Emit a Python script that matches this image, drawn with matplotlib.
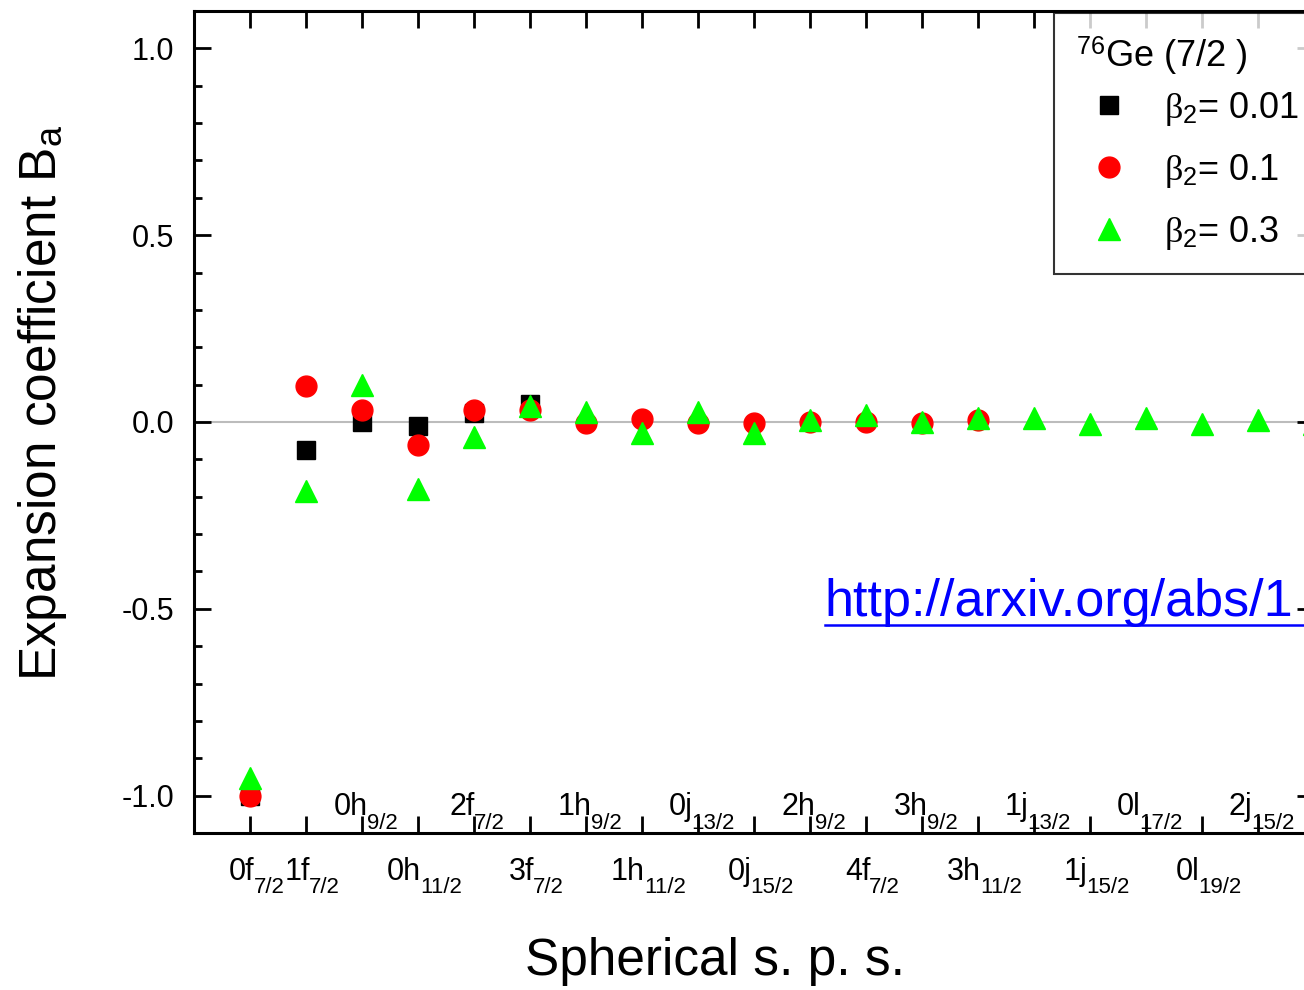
import numpy as np
import matplotlib.pyplot as plt
from matplotlib.ticker import MultipleLocator, FixedLocator, NullFormatter
from matplotlib.lines import Line2D
from matplotlib.transforms import offset_copy

plt.rcParams['font.family'] = ['Liberation Sans', 'DejaVu Sans']
plt.rcParams['mathtext.fontset'] = 'custom'
plt.rcParams['mathtext.rm'] = 'Liberation Sans'
plt.rcParams['mathtext.it'] = 'Liberation Serif'
plt.rcParams['mathtext.bf'] = 'Liberation Sans:bold'
plt.rcParams['axes.unicode_minus'] = False

# spherical single-particle states (orbital part and j)
orbits = ['0f', '1f', '0h', '0h', '2f', '3f', '1h', '1h', '0j', '0j',
          '2h', '4f', '3h', '3h', '1j', '1j', '0l', '0l', '2j', '']
spins = ['7/2', '7/2', '9/2', '11/2', '7/2', '7/2', '9/2', '11/2', '13/2', '15/2',
         '9/2', '7/2', '9/2', '11/2', '13/2', '15/2', '17/2', '19/2', '15/2', '']

# expansion coefficients for each deformation
b_001 = [-1.0, -0.075, 0.0, -0.01, 0.025, 0.048]
b_01 = [-1.0, 0.097, 0.032, -0.062, 0.032, 0.032, -0.004, 0.008, -0.003, -0.002,
        -0.001, -0.001, -0.002, 0.004]
b_03 = [-0.952, -0.184, 0.099, -0.179, -0.04, 0.043, 0.027, -0.03, 0.027, -0.03,
        0.005, 0.019, 0.0, 0.011, 0.011, -0.005, 0.011, -0.005, 0.005, -0.005]

fig = plt.figure(figsize=(13.04, 9.9), dpi=100)
ax = fig.add_axes([0.1488, 0.1586, 0.8589, 0.8303])

ax.axhline(0, color='#bcbcbc', lw=1.5, zorder=1)

ax.plot(np.arange(1, len(b_001) + 1), b_001, 's', color='black', ms=12.5,
        label=r'$\beta_2$= 0.01', zorder=3)
ax.plot(np.arange(1, len(b_01) + 1), b_01, 'o', color='red', ms=15,
        label=r'$\beta_2$= 0.1', zorder=4)
ax.plot(np.arange(1, len(b_03) + 1), b_03, '^', color='#00ff00', ms=16,
        label=r'$\beta_2$= 0.3', zorder=5, clip_on=False)

ax.set_xlim(0, 20)
ax.set_ylim(-1.1, 1.1)

for s in ax.spines.values():
    s.set_linewidth(2.2)

ax.yaxis.set_major_locator(MultipleLocator(0.5))
ax.yaxis.set_minor_locator(MultipleLocator(0.1))
ax.tick_params(axis='y', which='major', direction='in', length=12, width=2,
               labelsize=22, right=True, pad=14)
ax.tick_params(axis='y', which='minor', direction='in', length=6, width=2, right=True)

pos = np.arange(1, 21)
ax.xaxis.set_major_locator(FixedLocator(pos))
ax.xaxis.set_major_formatter(NullFormatter())
ax.tick_params(axis='x', which='major', direction='in', length=12, width=2, top=True)

# state names: first and even positions under the axis, the others just above it
fig.canvas.draw()
renderer = fig.canvas.get_renderer()
base = ax.get_xaxis_transform()
for i, (o, j) in enumerate(zip(orbits, spins)):
    if not o:
        continue
    if i == 0 or i % 2 == 1:
        y_main, y_sub, shift = -47, -60, 6
    else:
        y_main, y_sub, shift = 18, 4, 3
    t1 = ax.text(pos[i], 0, o, fontsize=22, ha='right', va='baseline', transform=base)
    t2 = ax.text(pos[i], 0, j, fontsize=16, ha='left', va='baseline', transform=base)
    w1 = t1.get_window_extent(renderer).width
    w2 = t2.get_window_extent(renderer).width
    dx = (w1 - w2) / 2 + shift
    t1.set_transform(offset_copy(base, fig, x=dx + 1, y=y_main, units='dots'))
    t2.set_transform(offset_copy(base, fig, x=dx, y=y_sub, units='dots'))
    t1.set_clip_on(False)
    t2.set_clip_on(False)

ax.set_xlabel('Spherical s. p. s.', fontsize=37)
ax.xaxis.set_label_coords(0.465, -0.127)
ax.set_ylabel(r'Expansion coefficient B$_{\mathrm{a}}$', fontsize=37)
ax.yaxis.set_label_coords(-0.112, 0.523)

leg = ax.legend(loc='upper left', bbox_to_anchor=(0.768, 0.997), frameon=True,
                fancybox=False, edgecolor='black', fontsize=26,
                title=r'$^{\mathrm{76}}$Ge (7/2 )', title_fontsize=26, alignment='left',
                handletextpad=0.6, labelspacing=0.67, borderpad=0.6,
                handlelength=1.83, borderaxespad=0)
leg.get_frame().set_linewidth(1.5)
# tighter gap between the title and the first entry
leg._legend_box.sep = 9

url = ax.text(0.563, 0.264, 'http://arxiv.org/abs/1', transform=ax.transAxes,
              color='#0000ff', fontsize=37.5, ha='left', va='baseline')
fig.canvas.draw()
bb = url.get_window_extent().transformed(fig.transFigure.inverted())
fig.add_artist(Line2D([bb.x0, 1.2], [bb.y0 + 0.002, bb.y0 + 0.002],
                      color='#0000ff', lw=1.8))

fig.savefig('out.png', dpi=100)
